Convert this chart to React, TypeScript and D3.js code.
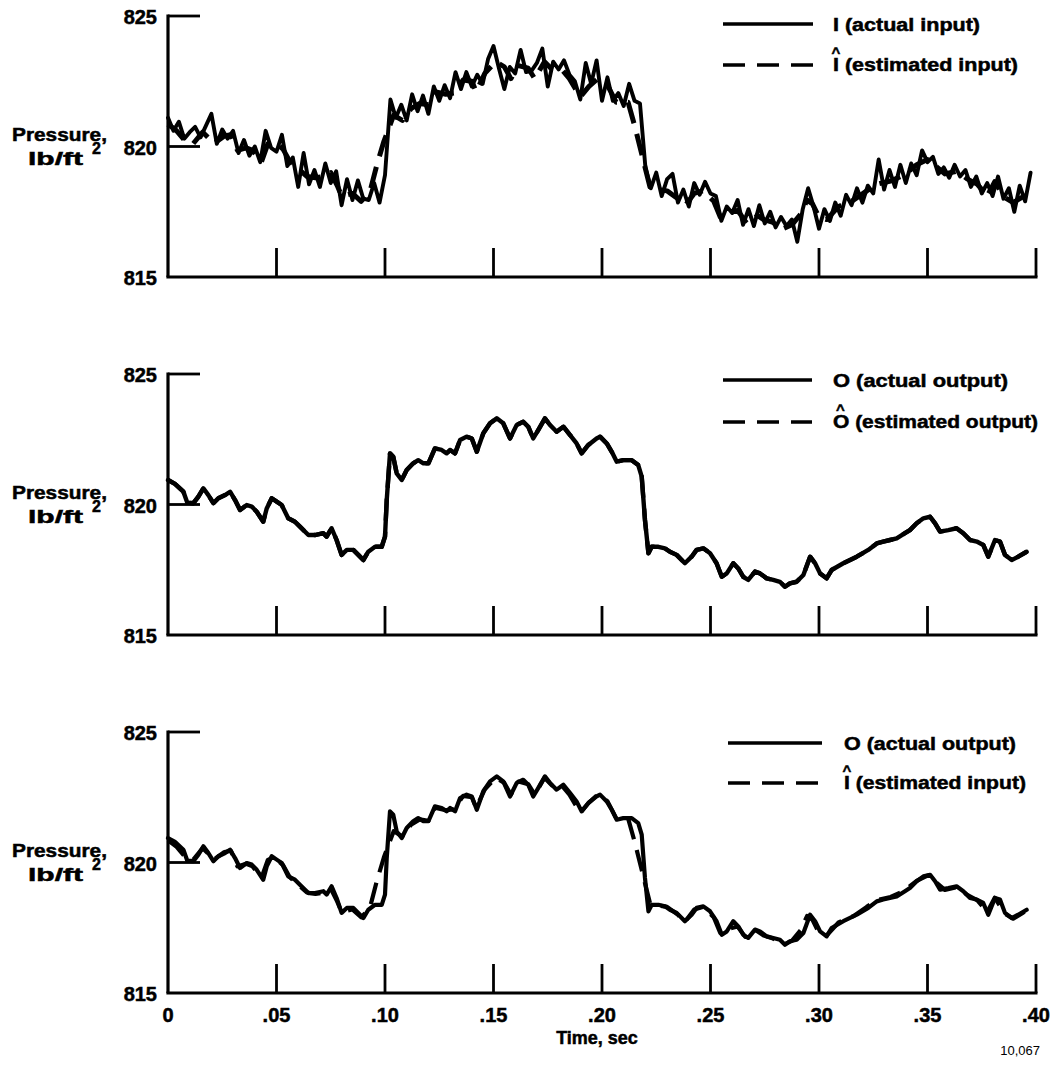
import React from "react";
import * as d3 from "d3";

// ---------- data ----------
const TIME_TICKS = [0, 0.05, 0.1, 0.15, 0.2, 0.25, 0.3, 0.35, 0.4];
const TIME_TICK_LABELS = ["0", ".05", ".10", ".15", ".20", ".25", ".30", ".35", ".40"];
const PRESSURE_TICKS = [815, 820, 825];
const PRESSURE_TICK_LABELS = ["815", "820", "825"];

// actual input I, sampled every 0.0025 s
const INPUT_DT = 0.0025;
const actualInput = [
  821.1, 820.6, 820.95, 820.3, 820.55, 820.75, 820.35, 820.8, 821.25, 820.1,
  820.65, 820.3, 820.6, 819.75, 820.25, 819.65, 820.0, 819.4, 820.6, 819.95,
  819.8, 820.45, 819.25, 819.58, 818.45, 819.75, 818.55, 819.1, 818.45, 819.35,
  818.6, 819.05, 817.75, 818.75, 817.95, 818.7, 818.0, 817.95, 818.6, 817.85,
  818.9, 821.8, 821.1, 821.6, 821.0, 822.0, 821.35, 821.95, 821.25, 822.3,
  821.75, 822.35, 821.85, 822.85, 822.2, 822.85, 822.3, 822.75, 822.4, 823.35,
  823.85, 823.0, 822.2, 823.05, 822.8, 823.7, 822.85, 822.9, 823.2, 823.75,
  822.3, 823.25, 822.95, 823.3, 822.75, 822.5, 821.8, 823.2, 822.4, 823.3,
  821.75, 822.65, 821.75, 822.05, 821.55, 822.4, 821.75, 821.65, 819.2, 818.4,
  819.0, 818.1, 818.75, 818.95, 817.85, 818.35, 817.7, 818.6, 818.15, 818.65,
  818.2, 818.1, 817.15, 817.7, 817.45, 817.95, 817.0, 817.6, 816.95, 817.75,
  817.05, 817.5, 816.9, 817.3, 816.95, 817.2, 816.35, 817.6, 818.4, 817.7,
  816.85, 817.6, 817.15, 817.85, 817.35, 818.15, 817.75, 818.4, 817.85, 818.5,
  818.2, 819.5, 818.35, 819.1, 818.45, 819.3, 818.6, 819.35, 818.9, 819.85,
  819.4, 819.6, 818.95, 819.2, 818.8, 819.3, 818.85, 819.1, 818.45, 818.85,
  818.2, 818.6, 818.1, 818.85, 818.0, 818.4, 817.5, 818.5, 817.9, 819.0,
];

// actual output O : [time s, pressure]
const actualOutput: [number, number][] = [
  [0.0, 820.94], [0.0032, 820.79], [0.0071, 820.49], [0.0089, 820.07], [0.0117, 820.05],
  [0.014, 820.3], [0.0163, 820.62], [0.0186, 820.36], [0.0209, 820.05], [0.0232, 820.24],
  [0.0263, 820.36], [0.0286, 820.49], [0.0309, 820.17], [0.0332, 819.79], [0.0363, 819.98],
  [0.0386, 819.92], [0.0409, 819.72], [0.0439, 819.34], [0.0455, 819.85], [0.0478, 820.24],
  [0.0501, 820.11], [0.0524, 819.98], [0.0554, 819.47], [0.0585, 819.34], [0.0608, 819.15],
  [0.0647, 818.83], [0.0677, 818.83], [0.0716, 818.9], [0.0731, 818.77], [0.0754, 819.09],
  [0.0777, 818.64], [0.08, 818.07], [0.0824, 818.26], [0.0854, 818.26], [0.0877, 818.07],
  [0.09, 817.87], [0.0923, 818.19], [0.0954, 818.38], [0.0985, 818.38], [0.1, 818.77],
  [0.1008, 820.17], [0.1023, 821.96], [0.1038, 821.83], [0.1054, 821.19], [0.1077, 820.94],
  [0.11, 821.32], [0.113, 821.58], [0.1153, 821.7], [0.1177, 821.58], [0.12, 821.58],
  [0.123, 822.15], [0.1261, 822.09], [0.1284, 821.96], [0.13, 822.09], [0.1323, 821.96],
  [0.1346, 822.47], [0.1376, 822.6], [0.14, 822.53], [0.1423, 822.02], [0.1453, 822.73],
  [0.1484, 823.11], [0.1515, 823.3], [0.1545, 823.11], [0.1576, 822.53], [0.1607, 823.05],
  [0.1637, 823.17], [0.166, 822.98], [0.1683, 822.53], [0.1706, 822.85], [0.1737, 823.3],
  [0.176, 823.05], [0.1791, 822.79], [0.1822, 822.98], [0.1853, 822.66], [0.1883, 822.34],
  [0.1906, 821.96], [0.1937, 822.28], [0.1975, 822.53], [0.1991, 822.6], [0.2022, 822.34],
  [0.2045, 822.02], [0.2068, 821.64], [0.2098, 821.7], [0.2137, 821.7], [0.2167, 821.51],
  [0.2183, 821.07], [0.2198, 819.41], [0.2214, 818.13], [0.2229, 818.38], [0.226, 818.38],
  [0.229, 818.32], [0.2313, 818.19], [0.2344, 818.07], [0.2382, 817.75], [0.2413, 818.0],
  [0.2436, 818.26], [0.2467, 818.32], [0.2498, 818.13], [0.2528, 817.75], [0.2552, 817.23],
  [0.2575, 817.36], [0.2605, 817.75], [0.2628, 817.55], [0.2651, 817.23], [0.2674, 817.11],
  [0.2705, 817.43], [0.2728, 817.36], [0.2759, 817.17], [0.2789, 817.11], [0.282, 817.04],
  [0.2843, 816.85], [0.2866, 816.98], [0.2897, 817.04], [0.2928, 817.3], [0.2959, 818.0],
  [0.2982, 817.75], [0.3005, 817.36], [0.3035, 817.17], [0.3058, 817.49], [0.3112, 817.75],
  [0.3174, 818.0], [0.3227, 818.26], [0.3266, 818.51], [0.3296, 818.58], [0.3327, 818.64],
  [0.3358, 818.7], [0.3396, 818.9], [0.3419, 819.02], [0.345, 819.28], [0.3481, 819.47],
  [0.3512, 819.53], [0.3535, 819.28], [0.3558, 818.96], [0.3596, 819.02], [0.3634, 819.09],
  [0.3665, 818.9], [0.3696, 818.64], [0.3727, 818.58], [0.3757, 818.45], [0.378, 818.0],
  [0.3811, 818.64], [0.3834, 818.58], [0.3857, 818.07], [0.3888, 817.87], [0.3918, 818.0],
  [0.3957, 818.19],
];

// estimated output Ô (coincides with O on the plot)
const estimatedOutput: [number, number][] = actualOutput;

// estimated input Î : [time s, pressure]
const estimatedInput: [number, number][] = [
  [0, 820.85], [0.004, 820.6], [0.008, 820.2], [0.0115, 820.1], [0.016, 820.55], [0.019, 820.3],
  [0.021, 820.1], [0.026, 820.4], [0.029, 820.45], [0.032, 819.85], [0.036, 819.95], [0.039, 819.85],
  [0.043, 819.4], [0.046, 820.1], [0.049, 820.2], [0.053, 819.9], [0.056, 819.45], [0.06, 819.15],
  [0.064, 818.85], [0.068, 818.8], [0.072, 818.85], [0.075, 819.0], [0.078, 818.5], [0.08, 818.1],
  [0.085, 818.2], [0.089, 817.9], [0.093, 818.25], [0.0962, 819.28], [0.0995, 820.2], [0.104, 821.2],
  [0.108, 821.0], [0.112, 821.45], [0.116, 821.65], [0.12, 821.6], [0.123, 822.1], [0.128, 822.0],
  [0.132, 822.05], [0.136, 822.55], [0.14, 822.5], [0.142, 822.1], [0.146, 822.8], [0.151, 823.25],
  [0.155, 823.05], [0.158, 822.6], [0.1615, 823.1], [0.166, 823.0], [0.169, 822.6], [0.1735, 823.25],
  [0.177, 822.95], [0.1815, 822.95], [0.185, 822.6], [0.19, 821.9], [0.194, 822.3], [0.198, 822.6],
  [0.2025, 822.35], [0.2065, 821.7], [0.212, 821.7], [0.2152, 820.75], [0.219, 819.48], [0.2221, 818.45],
  [0.226, 818.35], [0.23, 818.3], [0.235, 818.0], [0.238, 817.7], [0.2425, 818.2], [0.2465, 818.3],
  [0.2515, 817.9], [0.2545, 817.3], [0.258, 817.45], [0.2625, 817.55], [0.266, 817.15], [0.27, 817.45],
  [0.2745, 817.2], [0.2785, 817.1], [0.2835, 816.85], [0.2875, 817.0], [0.2915, 817.4], [0.2945, 817.95],
  [0.297, 817.8], [0.3, 817.3], [0.3035, 817.2], [0.309, 817.7], [0.316, 817.95], [0.322, 818.3],
  [0.3265, 818.55], [0.333, 818.68], [0.339, 818.9], [0.345, 819.3], [0.35, 819.5], [0.3545, 819.2],
  [0.358, 818.95], [0.3635, 819.05], [0.3685, 818.75], [0.373, 818.55], [0.3775, 818.1], [0.381, 818.65],
  [0.3855, 818.05], [0.3895, 817.85], [0.3935, 818.05], [0.3975, 818.25],
];

// ---------- layout ----------
const W = 1050;
const H = 1066;
const X0 = 168;
const X1 = 1036;
const PANEL_TOPS = [16, 374, 732];
const PANEL_H = 261;
const FONT = "'Liberation Sans', Arial, Helvetica, sans-serif";
const TXT = { fontFamily: FONT, fontWeight: "bold" as const, stroke: "#000", strokeWidth: 0.5 };

const x = d3.scaleLinear().domain([0, 0.4]).range([X0, X1]);

type Legend = {
  solid: string;
  solidW: number;
  dashed: string;
  dashedW: number;
  lineX0: number;
  lineX1: number;
  textX: number;
  row1: number;
  row2: number;
};

const LEGENDS: Legend[] = [
  { solid: "I (actual input)", solidW: 147, dashed: "I (estimated input)", dashedW: 185, lineX0: 723, lineX1: 813, textX: 833, row1: 24, row2: 65 },
  { solid: "O (actual output)", solidW: 175, dashed: "O (estimated output)", dashedW: 205, lineX0: 723, lineX1: 812, textX: 833, row1: 380, row2: 422 },
  { solid: "O (actual output)", solidW: 172, dashed: "I (estimated input)", dashedW: 182, lineX0: 728, lineX1: 822, textX: 844, row1: 743, row2: 783 },
];

function Panel({ index }: { index: number }) {
  const top = PANEL_TOPS[index];
  const bottom = top + PANEL_H;
  const y = d3.scaleLinear().domain([815, 825]).range([bottom, top]);
  const pairLine = d3
    .line<[number, number]>()
    .x((d) => x(d[0]))
    .y((d) => y(d[1]));
  const inputLine = d3
    .line<number>()
    .x((_, i) => x(i * INPUT_DT))
    .y((d) => y(d));
  const lg = LEGENDS[index];
  const hatX = lg.textX + (lg.dashed.startsWith("O") ? 7.5 : 3);

  return (
    <g>
      {/* curves */}
      {index === 0 && (
        <>
          <path d={inputLine(actualInput) || ""} fill="none" stroke="#000" strokeWidth={3.9} strokeLinejoin="round" strokeLinecap="round" />
          <path d={pairLine(estimatedInput) || ""} fill="none" stroke="#000" strokeWidth={5} strokeDasharray="22 11" strokeLinejoin="round" />
        </>
      )}
      {index === 1 && (
        <>
          <path d={pairLine(actualOutput) || ""} fill="none" stroke="#000" strokeWidth={4.4} strokeLinejoin="round" strokeLinecap="round" />
          <path d={pairLine(estimatedOutput) || ""} fill="none" stroke="#000" strokeWidth={4.4} strokeDasharray="22 11" strokeLinejoin="round" />
        </>
      )}
      {index === 2 && (
        <>
          <path d={pairLine(actualOutput) || ""} fill="none" stroke="#000" strokeWidth={4.2} strokeLinejoin="round" strokeLinecap="round" />
          <path d={pairLine(estimatedInput) || ""} fill="none" stroke="#000" strokeWidth={4.2} strokeDasharray="22 11" strokeLinejoin="round" />
        </>
      )}

      {/* y axis */}
      <line x1={X0} x2={X0} y1={y(825) - 1.5} y2={y(815)} stroke="#000" strokeWidth={3.2} />
      {PRESSURE_TICKS.filter((v) => v !== 815).map((v) => (
        <line key={v} x1={X0} x2={X0 + 32} y1={y(v)} y2={y(v)} stroke="#000" strokeWidth={2.8} />
      ))}
      {PRESSURE_TICKS.map((v, i) => (
        <text key={v} x={157} y={y(v) + 8} textAnchor="end" fontSize={20} {...TXT}>
          {PRESSURE_TICK_LABELS[i]}
        </text>
      ))}

      {/* x axis */}
      <line x1={X0 - 1.6} x2={X1 + 1.5} y1={bottom} y2={bottom} stroke="#000" strokeWidth={3.2} />
      {TIME_TICKS.filter((t) => t > 0).map((t) => (
        <line key={t} x1={x(t)} x2={x(t)} y1={bottom} y2={bottom - 29} stroke="#000" strokeWidth={2.8} />
      ))}

      {/* y label */}
      <text x={12} y={top + 125} fontSize={18} textLength={95} lengthAdjust="spacingAndGlyphs" {...TXT}>
        Pressure,
      </text>
      <text x={28} y={top + 149} fontSize={18} textLength={55} lengthAdjust="spacingAndGlyphs" {...TXT}>
        lb/ft
      </text>
      <text x={92} y={top + 138} fontSize={16} {...TXT}>
        2
      </text>

      {/* legend */}
      <line x1={lg.lineX0} x2={lg.lineX1} y1={lg.row1} y2={lg.row1} stroke="#000" strokeWidth={3.4} />
      <line x1={lg.lineX0} x2={lg.lineX1} y1={lg.row2} y2={lg.row2} stroke="#000" strokeWidth={3.4} strokeDasharray="22 12" />
      <text x={lg.textX} y={lg.row1 + 7} fontSize={18} textLength={lg.solidW} lengthAdjust="spacingAndGlyphs" {...TXT}>
        {lg.solid}
      </text>
      <text x={lg.textX} y={lg.row2 + 6} fontSize={18} textLength={lg.dashedW} lengthAdjust="spacingAndGlyphs" {...TXT}>
        {lg.dashed}
      </text>
      <text x={hatX} y={lg.row2 - 7} textAnchor="middle" fontSize={15} {...TXT}>
        ^
      </text>
    </g>
  );
}

export default function App() {
  const bottom = PANEL_TOPS[2] + PANEL_H;
  return (
    <>
      <style>{`body{margin:0;background:#fff}`}</style>
      <svg width={W} height={H} viewBox={`0 0 ${W} ${H}`} style={{ display: "block", background: "#fff" }}>
        {PANEL_TOPS.map((_, i) => (
          <Panel key={i} index={i} />
        ))}
        {TIME_TICKS.map((t, i) => (
          <text key={t} x={x(t)} y={bottom + 29} textAnchor="middle" fontSize={20} {...TXT}>
            {TIME_TICK_LABELS[i]}
          </text>
        ))}
        <text x={597} y={bottom + 51} textAnchor="middle" fontSize={18} {...TXT}>
          Time, sec
        </text>
        <text x={1040} y={bottom + 62} textAnchor="end" fontSize={13} fontFamily={FONT}>
          10,067
        </text>
      </svg>
    </>
  );
}
